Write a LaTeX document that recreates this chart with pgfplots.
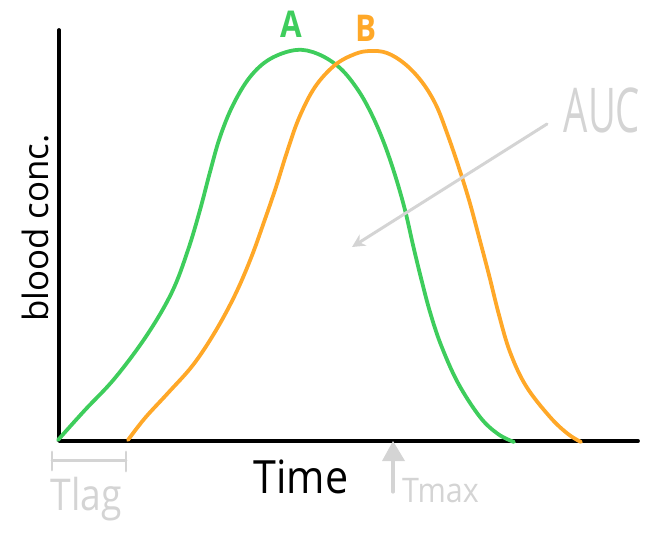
\documentclass[border=0pt]{standalone}
\usepackage{pgfplots}
\pgfplotsset{compat=1.18}
\usetikzlibrary{arrows.meta}
\usepackage{fontspec}
\setmainfont{Open Sans}
\definecolor{cA}{RGB}{62,205,92}
\definecolor{cB}{RGB}{255,168,40}
\definecolor{gr}{RGB}{212,212,212}
\begin{document}
\begin{tikzpicture}
\begin{axis}[name=ax,
  scale only axis, width=653bp, height=533bp,
  xmin=0, xmax=653, ymin=0, ymax=533, y dir=reverse,
  axis lines=none, ticks=none, clip=false,
]
% axes
\addplot[black, line width=3.8pt, line cap=round, line join=round] coordinates {(59,30) (59,441) (638,441)};
% curve A
\addplot[cA, line width=3.8pt, smooth, tension=0.6, line cap=round] coordinates {
(58,440) (85,410) (115,378) (147,335) (172,292) (188,250) (200,210) (210,172) (220,137) (233,105) (250,77) (270,59) (296,50) (318,54) (340,68) (358,90) (372,115) (384,143) (395,175) (405,210) (413,245) (421,278) (430,312) (441,345) (458,383) (480,417) (498,434) (514,442)};
% curve B
\addplot[cB, line width=3.8pt, smooth, tension=0.6, line cap=round] coordinates {
(128,440) (145,418) (168,393) (193,365) (215,332) (235,295) (251,258) (264,222) (276,187) (287,152) (299,118) (315,87) (335,65) (355,54) (370,51) (387,53) (405,64) (422,82) (436,105) (447,133) (458,165) (469,200) (479,237) (489,275) (499,315) (510,352) (526,386) (550,417) (568,434) (581,442)};
% labels
\node[cA, anchor=base, xscale=0.85, font=\fontsize{37}{37}\selectfont\bfseries] at (axis cs:291,38) {A};
\node[cB, anchor=base, xscale=0.85, font=\fontsize{37}{37}\selectfont\bfseries] at (axis cs:366,42) {B};
\node[black, rotate=90, anchor=base, font=\fontsize{35}{35}\selectfont] at (axis cs:48,228) {blood conc.};
\node[black, anchor=base, xscale=0.9, font=\fontsize{46}{46}\selectfont] at (axis cs:301,493) {Time};
% Tlag
\draw[gr, line width=3pt, line cap=round] (axis cs:52,460) -- (axis cs:126,460);
\draw[gr, line width=3pt, line cap=round] (axis cs:52,452) -- (axis cs:52,470);
\draw[gr, line width=3pt, line cap=round] (axis cs:126,452) -- (axis cs:126,471);
\node[gr, anchor=base, xscale=0.85, font=\fontsize{44}{44}\selectfont] at (axis cs:86,510) {Tlag};
% Tmax
\draw[gr, line width=3.2pt, line cap=round] (axis cs:393,492) -- (axis cs:393,456);
\fill[gr] (axis cs:382,461) -- (axis cs:393,441) -- (axis cs:405,461) -- cycle;
\node[gr, anchor=base west, xscale=0.9, inner xsep=0pt, font=\fontsize{34}{34}\selectfont] at (axis cs:402,502) {Tmax};
% AUC
\node[gr, anchor=base, xscale=0.62, font=\fontsize{62}{62}\selectfont] at (axis cs:602,132) {AUC};
\draw[gr, line width=3pt, line cap=round, -{Stealth[length=13bp,width=13bp]}] (axis cs:547,124) -- (axis cs:352,247);
\end{axis}
\pgfresetboundingbox
\path[use as bounding box] (ax.south west) rectangle (ax.north east);
\end{tikzpicture}
\end{document}
